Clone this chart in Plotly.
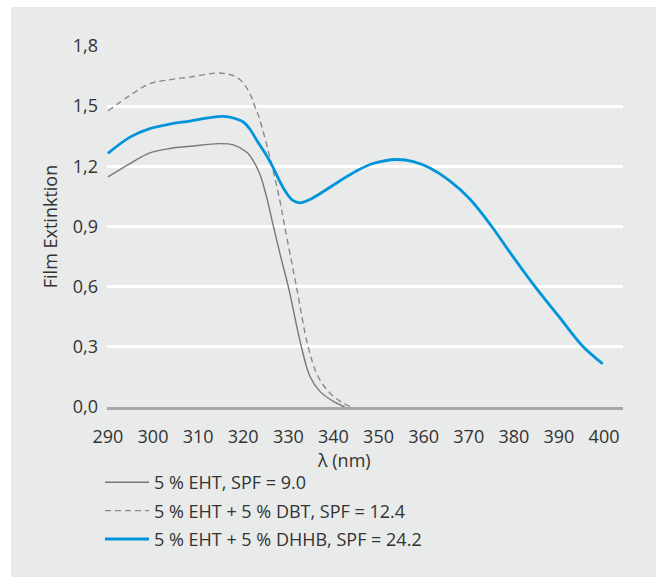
import plotly.graph_objects as go

# ---- data ----
wl_eht = [290, 294.9, 299.3, 303.7, 308.2, 314.8, 317.8, 320.8, 322.3, 323.7,
          325.2, 326.7, 328.2, 330, 332.9, 334.8, 337, 340, 342.5]
ext_eht = [1.147, 1.214, 1.267, 1.289, 1.30, 1.313, 1.307, 1.270, 1.225, 1.16,
           1.045, 0.9, 0.76, 0.6, 0.3, 0.152, 0.078, 0.028, 0.0]

wl_dbt = [290, 294.9, 299.3, 303.7, 308.2, 314.1, 317, 319.3, 321.5, 322.4,
          323.7, 326.4, 328.1, 329.2, 331.8, 334.4, 336.6, 339.2, 342.1, 344]
ext_dbt = [1.476, 1.554, 1.612, 1.632, 1.645, 1.665, 1.658, 1.632, 1.562, 1.51,
           1.43, 1.2, 1.031, 0.9, 0.6, 0.3, 0.152, 0.07, 0.02, 0.0]

wl_dhhb = [290, 295, 299.3, 303.7, 308.2, 312.6, 315.6, 317.8, 320, 321.5,
           323, 325, 326.5, 328, 329.5, 331, 332.6, 334.8, 337.7, 341.4,
           345.1, 348.8, 354, 357.7, 361.4, 365.8, 370.3, 375.1, 379.1, 384.7,
           390.2, 395.4, 399.7]
ext_dhhb = [1.265, 1.347, 1.388, 1.41, 1.426, 1.443, 1.449, 1.441, 1.421, 1.385,
            1.33, 1.26, 1.2, 1.13, 1.07, 1.03, 1.018, 1.035, 1.073, 1.127,
            1.177, 1.214, 1.234, 1.224, 1.192, 1.128, 1.036, 0.9, 0.772, 0.6,
            0.445, 0.3, 0.215]

names = ["5 % EHT, SPF = 9.0",
         "5 % EHT + 5 % DBT, SPF = 12.4",
         "5 % EHT + 5 % DHHB, SPF = 24.2"]

x_ticks = [290, 300, 310, 320, 330, 340, 350, 360, 370, 380, 390, 400]
y_ticks = [0.0, 0.3, 0.6, 0.9, 1.2, 1.5, 1.8]

FONT = "Open Sans"
FS = 18
TXT = "#333333"
W, H = 656, 577
L, R, T, B = 107, 33, 46, 170
pw, ph = W - L - R, H - T - B

fig = go.Figure()
fig.add_trace(go.Scatter(x=wl_eht, y=ext_eht, mode="lines", name=names[0],
                         legendgroup="a",
                         line=dict(color="#787878", width=1.4, shape="spline", smoothing=1.0)))
fig.add_trace(go.Scatter(x=wl_dbt, y=ext_dbt, mode="lines", name=names[1],
                         legendgroup="b",
                         line=dict(color="#8a8a8a", width=1.4, dash="6px,4px",
                                   shape="spline", smoothing=1.0)))
fig.add_trace(go.Scatter(x=wl_dhhb, y=ext_dhhb, mode="lines", name=names[2],
                         legendgroup="c",
                         line=dict(color="#0095DA", width=2.8, shape="spline", smoothing=1.0)))

# grey panel behind everything
fig.add_shape(type="rect", xref="paper", yref="paper",
              x0=(11 - L) / pw, x1=(W + 5 - L) / pw,
              y0=-(H + 5 - T - ph) / ph, y1=(H - 7 - B) / ph,
              fillcolor="#e9eaea", line=dict(width=0), layer="below")

fig.add_annotation(text="λ (nm)", xref="paper", yref="paper",
                   x=(344 - L) / pw, y=-(460 - T - ph) / ph,
                   xanchor="center", yanchor="middle", showarrow=False,
                   font=dict(family=FONT, size=FS, color=TXT))

fig.update_layout(
    width=W, height=H,
    margin=dict(l=L, r=R, t=T, b=B),
    paper_bgcolor="white",
    plot_bgcolor="rgba(0,0,0,0)",
    separators=",.",
    font=dict(family=FONT, size=FS, color=TXT),
    showlegend=True,
    legend=dict(orientation="v", x=(100 - L) / pw, xanchor="left",
                y=-(464 - T - ph) / ph, yanchor="top",
                bgcolor="rgba(0,0,0,0)", tracegroupgap=2, itemwidth=44,
                font=dict(family=FONT, size=FS, color=TXT)),
    xaxis=dict(range=[289.8, 404.2], tickvals=x_ticks, ticktext=[str(v) for v in x_ticks],
               showgrid=False, zeroline=False, showline=True,
               linecolor="#a8a8a8", linewidth=2.5, ticks="",
               ticklabelstandoff=12, tickfont=dict(family=FONT, size=FS, color=TXT)),
    yaxis=dict(range=[0, 1.8], tickvals=y_ticks, tickformat=".1f",
               showgrid=True, gridcolor="white", gridwidth=2.5, zeroline=False,
               showline=False, ticks="", ticklabelstandoff=8,
               tickfont=dict(family=FONT, size=FS, color=TXT),
               title=dict(text="Film Extinktion", standoff=10,
                          font=dict(family=FONT, size=FS, color=TXT))),
)

fig.write_html("out.html")
